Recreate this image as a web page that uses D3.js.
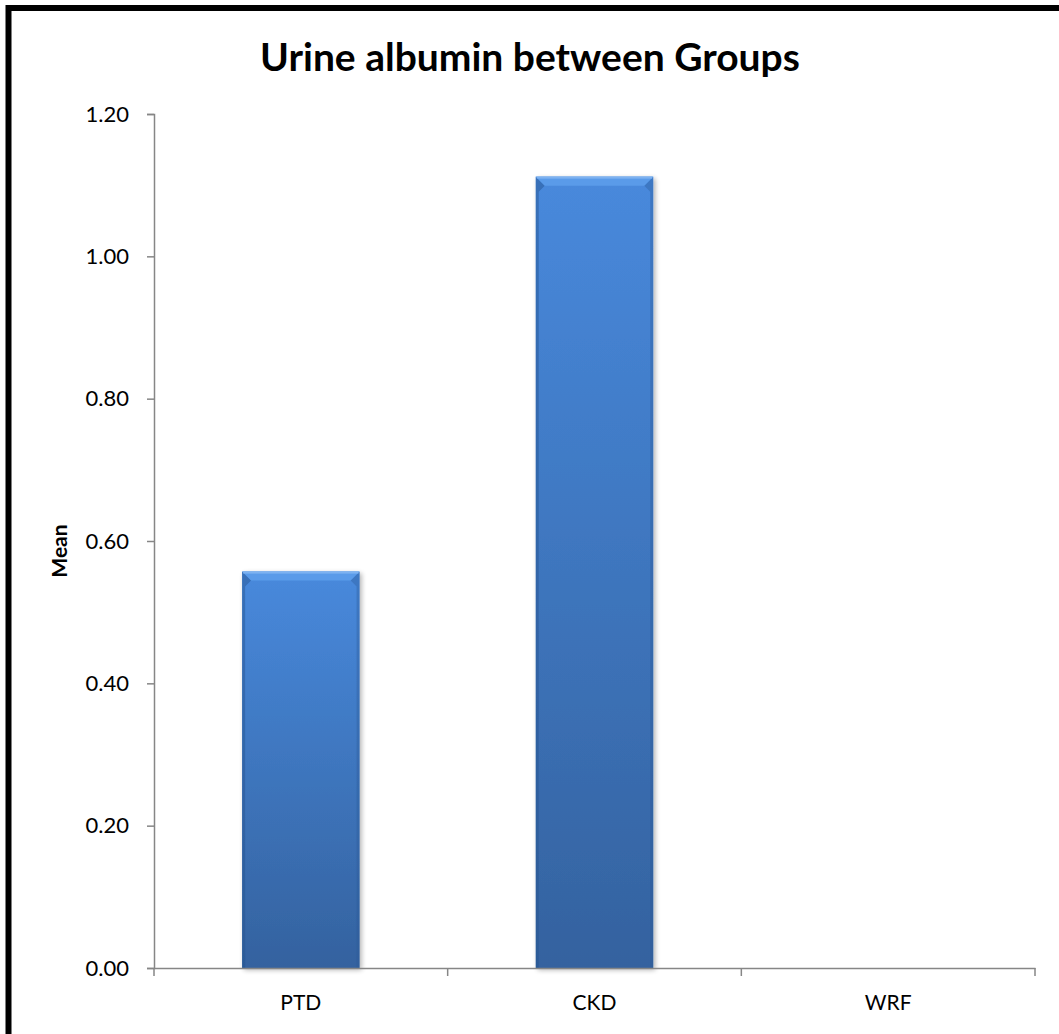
<!DOCTYPE html>
<html>
<head>
<meta charset="utf-8">
<script src="https://cdn.jsdelivr.net/npm/d3@7"></script>
<style>
  html, body { margin: 0; padding: 0; background: #fff; }
  svg { display: block; }
</style>
</head>
<body>
<script>
// Group means for urine albumin
const categories = ["PTD", "CKD", "WRF"];
const meanValues = [0.557, 1.112, 0];
const yTickValues = [0, 0.2, 0.4, 0.6, 0.8, 1.0, 1.2];
const chartTitle = "Urine albumin between Groups";
const yAxisTitle = "Mean";

const W = 1059, H = 1034;
const plot = { left: 154, right: 1035, top: 114, bottom: 968 };
const FONT = "Lato, 'Open Sans', sans-serif";

const svg = d3.select("body").append("svg")
  .attr("width", W).attr("height", H);

const defs = svg.append("defs");
const grad = defs.append("linearGradient")
  .attr("id", "barFill").attr("x1", 0).attr("y1", 0).attr("x2", 0).attr("y2", 1);
grad.append("stop").attr("offset", "0%").attr("stop-color", "#4889dc");
grad.append("stop").attr("offset", "100%").attr("stop-color", "#34629f");

const shadow = defs.append("filter").attr("id", "barShadow")
  .attr("x", "-10%").attr("y", "-5%").attr("width", "125%").attr("height", "115%");
shadow.append("feGaussianBlur").attr("in", "SourceAlpha").attr("stdDeviation", 2.5);
shadow.append("feOffset").attr("dx", 2).attr("dy", 2).attr("result", "off");
shadow.append("feComponentTransfer").append("feFuncA").attr("type", "linear").attr("slope", 0.3);
const merge = shadow.append("feMerge");
merge.append("feMergeNode");
merge.append("feMergeNode").attr("in", "SourceGraphic");

// Outer frame
svg.append("rect")
  .attr("x", 8.5).attr("y", 8).attr("width", W + 20).attr("height", H + 20)
  .attr("fill", "none").attr("stroke", "#000").attr("stroke-width", 6);

const x = d3.scaleBand()
  .domain(categories)
  .range([plot.left, plot.right])
  .paddingInner(0.6).paddingOuter(0.3);

const y = d3.scaleLinear().domain([0, 1.2]).range([plot.bottom, plot.top]);

// Title
svg.append("text")
  .attr("x", 530).attr("y", 71)
  .attr("text-anchor", "middle")
  .attr("font-family", FONT)
  .attr("font-weight", "bold")
  .attr("font-size", 39)
  .attr("fill", "#000")
  .text(chartTitle);

// Y axis title
svg.append("text")
  .attr("transform", `translate(67, ${(plot.top + plot.bottom) / 2 + 10}) rotate(-90)`)
  .attr("text-anchor", "middle")
  .attr("font-family", FONT)
  .attr("font-weight", "bold")
  .attr("font-size", 21)
  .text(yAxisTitle);

// Bars with a bevelled top
const bars = svg.append("g").selectAll("g")
  .data(categories.map((c, i) => ({ c, v: meanValues[i] })).filter(d => d.v > 0))
  .join("g")
  .attr("filter", "url(#barShadow)");

const bev = 9, side = 3;
bars.append("rect")
  .attr("x", d => x(d.c))
  .attr("y", d => y(d.v))
  .attr("width", x.bandwidth())
  .attr("height", d => y(0) - y(d.v))
  .attr("fill", "url(#barFill)");

// left face of the bevel
bars.append("path")
  .attr("d", d => {
    const x0 = x(d.c), t = y(d.v), b = y(0);
    return `M${x0},${t} L${x0 + bev},${t + bev} L${x0 + side},${t + bev + 6} L${x0 + side},${b} L${x0},${b} Z`;
  })
  .attr("fill", "#24518d").attr("opacity", 0.45);
// right face of the bevel
bars.append("path")
  .attr("d", d => {
    const x1 = x(d.c) + x.bandwidth(), t = y(d.v), b = y(0);
    return `M${x1},${t} L${x1 - bev},${t + bev} L${x1 - side},${t + bev + 6} L${x1 - side},${b} L${x1},${b} Z`;
  })
  .attr("fill", "#2a5894").attr("opacity", 0.35);
// top face of the bevel
bars.append("path")
  .attr("d", d => {
    const x0 = x(d.c), x1 = x0 + x.bandwidth(), t = y(d.v);
    return `M${x0},${t} L${x1},${t} L${x1 - bev},${t + bev} L${x0 + bev},${t + bev} Z`;
  })
  .attr("fill", "#5a9be9");
// thin highlight along the top edge
bars.append("rect")
  .attr("x", d => x(d.c) + 1)
  .attr("y", d => y(d.v))
  .attr("width", x.bandwidth() - 2)
  .attr("height", 2)
  .attr("fill", "#86b8f3").attr("opacity", 0.8);

// Y axis
const yAxis = svg.append("g")
  .attr("transform", `translate(${plot.left},0)`)
  .call(d3.axisLeft(y).tickValues(yTickValues).tickFormat(d3.format(".2f")).tickSize(7).tickPadding(18));
yAxis.select(".domain").attr("stroke", "#868686").attr("stroke-width", 1.5);
yAxis.selectAll(".tick line").attr("stroke", "#868686").attr("stroke-width", 1.5);
yAxis.selectAll(".tick text")
  .attr("font-family", FONT)
  .attr("font-size", 22).attr("fill", "#000");

// X axis
const xAxis = svg.append("g")
  .attr("transform", `translate(0,${plot.bottom})`)
  .call(d3.axisBottom(x).tickSize(0).tickPadding(27));
xAxis.select(".domain").attr("stroke", "#868686").attr("stroke-width", 1.5);
xAxis.selectAll(".tick text")
  .attr("font-family", FONT)
  .attr("font-size", 21).attr("fill", "#000");
// ticks at the category boundaries
const bounds = d3.range(categories.length + 1).map(i => plot.left + i * (plot.right - plot.left) / categories.length);
xAxis.selectAll(".bound").data(bounds).join("line")
  .attr("class", "bound")
  .attr("x1", d => d).attr("x2", d => d)
  .attr("y1", 0).attr("y2", 8)
  .attr("stroke", "#868686").attr("stroke-width", 1.5);
</script>
</body>
</html>
